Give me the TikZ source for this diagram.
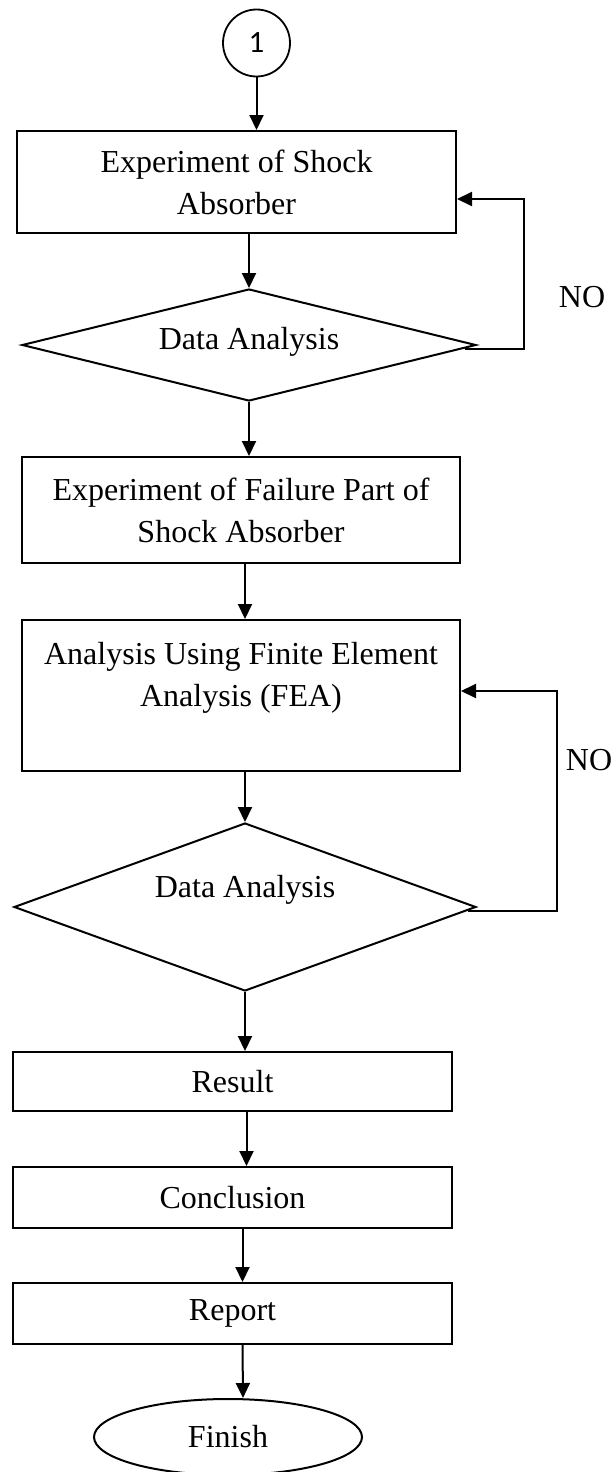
\documentclass[tikz,border=0pt]{standalone}
\usepackage{fontspec}
\setmainfont{Liberation Serif}
\newfontfamily\digitfont{Carlito}
\usetikzlibrary{shapes.geometric,arrows.meta}
\begin{document}
\begin{tikzpicture}[x=1pt,y=-1pt,
  every node/.style={font=\fontsize{32}{42}\selectfont},
  box/.style={draw, line width=2pt, minimum width=439pt, inner sep=0pt, align=center},
  decision/.style={draw, diamond, aspect=4, line width=2pt, inner sep=0pt},
  arr/.style={line width=2pt, -{Triangle[length=15pt,width=14pt]}},
  tag/.style={inner sep=0pt}]
\useasboundingbox (0,0) rectangle (615,1472);

% connector start
\node[draw, circle, line width=1.8pt, minimum size=67pt, inner sep=0pt,
      font=\digitfont\fontsize{31}{33}\selectfont] (c1) at (256.5,43) {1};

% process boxes and decisions
\node[box, minimum height=102pt] (b1) at (236.5,182) {Experiment of Shock\\Absorber};
\node[decision, minimum width=454pt, minimum height=112pt] (d1) at (249,345) {};
\node[tag] (d1t) at (249,342) {Data Analysis};
\node[box, minimum width=438pt, minimum height=106pt] (b2) at (241,510) {Experiment of Failure Part of\\Shock Absorber};
\node[box, minimum width=438pt, minimum height=151pt] (b3) at (241,695.5) {Analysis Using Finite Element\\Analysis (FEA)\\\mbox{}};
\node[decision, minimum width=462pt, minimum height=168pt] (d2) at (245,907) {};
\node[tag] (d2t) at (245,890) {Data Analysis};
\node[box, minimum height=59pt] (r) at (232.5,1081.5) {Result};
\node[box, minimum height=61pt] (cn) at (232.5,1197.5) {Conclusion};
\node[box, minimum height=61pt] (rp) at (232.5,1313.5) {Report};
\node[draw, ellipse, line width=2pt, minimum width=268pt, minimum height=76pt, inner sep=0pt] (fin) at (228,1437) {Finish};

% loop labels
\node[tag] (no1) at (582,297) {NO};
\node[tag] (no2) at (589,760) {NO};

% main flow
\draw[arr] (c1.south) -- (c1.south |- b1.north);
\draw[arr] (d1.north |- b1.south) -- (d1.north);
\draw[arr] (d1.south) -- (d1.south |- b2.north);
\draw[arr] ([xshift=4pt]b2.south) -- ([xshift=4pt]b3.north);
\draw[arr] (d2.north |- b3.south) -- (d2.north);
\draw[arr] (d2.south) -- (d2.south |- r.north);
\draw[arr] ([xshift=14pt]r.south) -- ([xshift=14pt]cn.north);
\draw[arr] ([xshift=10pt]cn.south) -- ([xshift=10pt]rp.north);
\draw[arr] ([xshift=10pt]rp.south) -- ([xshift=15pt]fin.north);

% return loops
\coordinate (l1) at (524,349);
\draw[arr] ([xshift=-12pt,yshift=-4pt]d1.east) -- (l1) |- ([yshift=-17pt]b1.east);
\coordinate (l2) at (557,911);
\draw[arr] ([xshift=-9pt,yshift=-4pt]d2.east) -- (l2) |- ([yshift=4.5pt]b3.east);
\end{tikzpicture}
\end{document}
